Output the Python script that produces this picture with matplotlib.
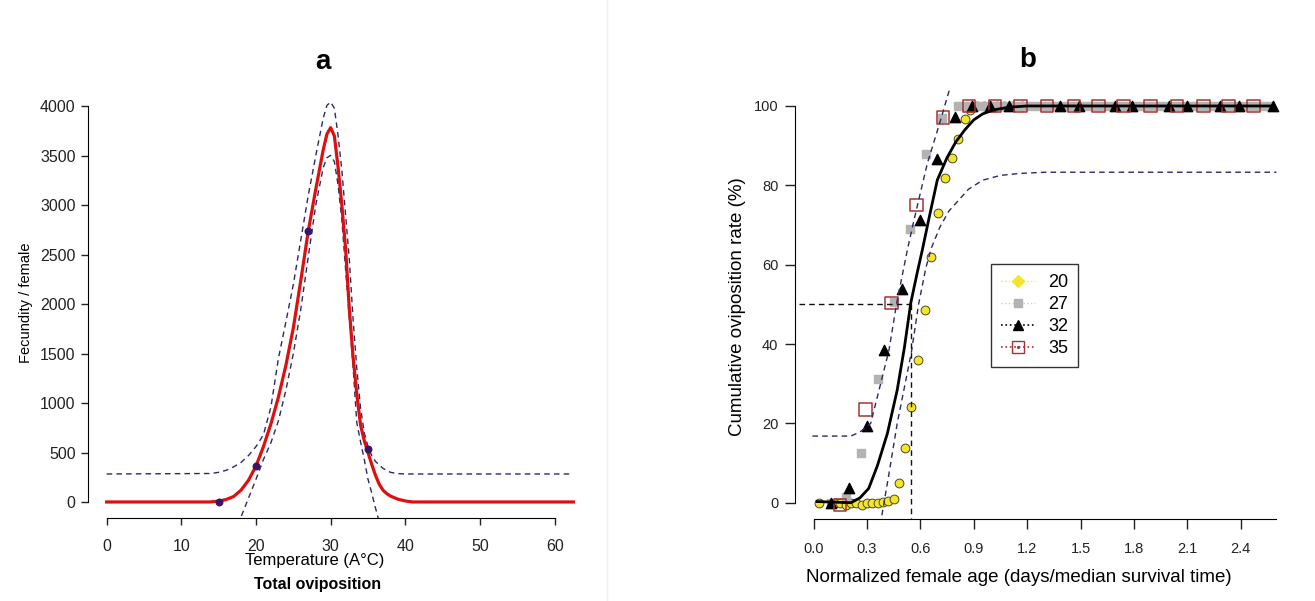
import matplotlib
matplotlib.use("Agg")
import matplotlib.pyplot as plt
from matplotlib.lines import Line2D

plt.rcParams['font.family'] = ['Liberation Sans', 'DejaVu Sans']

# ---- (a) total oviposition against temperature ----
obs_temp = [15, 20, 27, 35]
obs_fec = [0, 364, 2740, 535]

fit_temp = [0, 13.8, 15, 16, 17, 18, 19, 20, 21, 22, 23, 24, 25, 26, 27, 28, 29, 29.5,
            30, 30.5, 31, 31.5, 32, 32.5, 33, 33.5, 34, 34.5, 35, 35.5, 36, 36.5, 37,
            37.5, 38, 39, 40, 41, 62.5]
fit_fec = [0, 0, 8, 25, 55, 120, 220, 364, 560, 790, 1060, 1380, 1760, 2240, 2740, 3160,
           3560, 3720, 3785, 3700, 3380, 3000, 2560, 1950, 1470, 1090, 780, 620, 500, 380,
           270, 180, 120, 85, 60, 28, 10, 0, 0]

upper_temp = [0, 14, 15, 16, 17, 18, 19, 20, 21, 22, 23, 24, 25, 26, 27, 28, 29, 29.5,
              30, 30.5, 31, 31.5, 32, 32.5, 33, 33.5, 34, 34.5, 35, 35.5, 36, 37, 38, 39,
              40, 62]
upper_fec = [283, 288, 300, 320, 355, 400, 470, 560, 680, 960, 1450, 1820, 2200, 2650,
             3100, 3500, 3880, 4010, 4044, 3980, 3700, 3350, 2900, 2450, 1850, 1350, 950,
             700, 560, 470, 410, 340, 300, 287, 283, 283]

lower_temp = [17.5, 18, 19, 20, 21, 22, 23, 24, 25, 26, 27, 28, 29, 29.5, 30, 30.5, 31,
              31.5, 32, 32.5, 33, 33.5, 34, 34.5, 35, 35.5, 36, 36.5, 37]
lower_fec = [-230, -150, 40, 230, 430, 600, 820, 1130, 1500, 1950, 2480, 3000, 3380, 3480,
             3505, 3440, 3200, 2850, 2350, 1860, 1370, 800, 610, 430, 230, 90, -60, -200,
             -300]

# ---- (b) cumulative oviposition against normalised age ----
age_20 = [0.03, 0.12, 0.15, 0.18, 0.21, 0.24, 0.27, 0.30, 0.33, 0.36, 0.39, 0.42, 0.45,
          0.48, 0.514, 0.55, 0.587, 0.626, 0.658, 0.699, 0.736, 0.776, 0.811, 0.849,
          0.88, 0.92, 0.955, 0.99, 1.03, 1.07, 1.12, 1.17]
rate_20 = [0, 0, 0, -0.5, 0, 0, -0.5, 0, 0, 0, 0.3, 0.5, 1, 4.9, 13.7, 24.2, 36, 48.6,
           61.9, 72.9, 81.8, 86.8, 91.6, 96.6, 99, 100, 100, 100, 100, 100, 100, 100]

age_27 = [0.10, 0.181, 0.269, 0.362, 0.45, 0.542, 0.634, 0.72, 0.811, 0.855, 0.90, 0.945,
          0.99, 1.035, 1.08, 1.125, 1.17, 1.215, 1.26, 1.305, 1.35, 1.395, 1.44, 1.485,
          1.53, 1.575, 1.62, 1.665, 1.71, 1.755, 1.80, 1.845, 1.89, 1.935, 1.98, 2.025,
          2.07, 2.115, 2.16, 2.205, 2.25, 2.295, 2.34, 2.385, 2.43, 2.475, 2.52, 2.565]
rate_27 = [0, 1.5, 12.6, 31.1, 50.5, 69, 87.9, 97, 100, 100, 100, 100, 100, 100, 100,
           100, 100, 100, 100, 100, 100, 100, 100, 100, 100, 100, 100, 100, 100, 100,
           100, 100, 100, 100, 100, 100, 100, 100, 100, 100, 100, 100, 100, 100, 100,
           100, 100, 100]

age_32 = [0.097, 0.20, 0.303, 0.396, 0.499, 0.596, 0.695, 0.794, 0.892, 0.99, 1.097,
          1.387, 1.49, 1.695, 1.789, 1.994, 2.098, 2.284, 2.387, 2.583]
rate_32 = [0, 3.6, 19.3, 38.5, 53.8, 71.3, 86.6, 97.3, 100, 100, 100, 100, 100, 100, 100,
           100, 100, 100, 100, 100]

age_35 = [0.149, 0.293, 0.439, 0.579, 0.727, 0.873, 1.02, 1.163, 1.312, 1.462, 1.60,
          1.742, 1.892, 2.041, 2.191, 2.331, 2.471]
rate_35 = [-0.5, 23.5, 50.4, 75, 97.1, 100, 100, 100, 100, 100, 100, 100, 100, 100, 100,
           100, 100]

curve_age = [0.02, 0.21, 0.26, 0.31, 0.36, 0.415, 0.47, 0.51, 0.546, 0.58, 0.611, 0.65,
             0.695, 0.75, 0.80, 0.85, 0.90, 0.95, 1.01, 1.10, 1.20, 2.58]
curve_rate = [0.3, 0, 1.2, 3.6, 9.5, 17.5, 28.4, 39, 50.3, 57.5, 63.7, 72, 81.3, 87, 91,
              94, 96.5, 98, 99, 99.7, 100, 100]

band_hi_age = [-0.006, 0.209, 0.26, 0.321, 0.377, 0.424, 0.467, 0.527, 0.564, 0.639,
               0.714, 0.76, 0.78]
band_hi_rate = [16.8, 16.8, 17.8, 20, 30, 38.5, 50.3, 63.7, 71.2, 85.5, 96.5, 103.6, 107]

band_lo_age = [0.365, 0.40, 0.43, 0.47, 0.51, 0.55, 0.59, 0.63, 0.66, 0.71, 0.76, 0.81,
               0.87, 0.95, 1.05, 1.16, 1.30, 2.60]
band_lo_rate = [-8, 1, 9, 20, 29, 38, 50, 59, 64, 69.5, 73.5, 76, 79, 81.3, 82.5, 83,
                83.3, 83.3]

median_age = 0.55
median_rate = 50

W, H = 1315, 601
fig = plt.figure(figsize=(W / 100, H / 100), dpi=100)

navy = '#2a2a68'

# panel a
ax1 = fig.add_axes([88 / W, 1 - 518 / H, 504 / W, (518 - 86) / H])
ax1.plot(upper_temp, upper_fec, color=navy, lw=1.0, ls=(0, (4, 3)))
ax1.plot(lower_temp, lower_fec, color=navy, lw=1.0, ls=(0, (4, 3)))
ax1.plot(fit_temp, fit_fec, color='#dd0f0f', lw=2.3)
ax1.scatter(obs_temp, obs_fec, s=22, color='#3b1466', zorder=3)
ax1.set_xlim(-2.5, 65)
ax1.set_ylim(-162, 4206)
ax1.spines[['top', 'right']].set_visible(False)
ax1.spines['left'].set_bounds(0, 4000)
ax1.spines['bottom'].set_bounds(0, 60)
ax1.set_xticks(range(0, 61, 10))
ax1.set_yticks(range(0, 4001, 500))
ax1.tick_params(direction='out', length=5, width=1, labelsize=11.5, colors='#222222')
ax1.tick_params(axis='x', pad=10)
ax1.tick_params(axis='y', pad=4)

fig.text(323 / W, 1 - 62 / H, 'a', ha='center', va='center', fontsize=20,
         fontweight='bold')
fig.text(26 / W, 1 - 303 / H, 'Fecundity / female', rotation=90, ha='center',
         va='center', fontsize=10.5)
fig.text(315 / W, 1 - 561 / H, 'Temperature (A°C)', ha='center', va='center',
         fontsize=12)
fig.text(318 / W, 1 - 584 / H, 'Total oviposition', ha='center', va='center',
         fontsize=11.5, fontweight='bold')

# panel b
ax2 = fig.add_axes([795 / W, 1 - 518.6 / H, 500 / W, 428.5 / H])
ax2.scatter(age_20, rate_20, s=40, facecolor='#f5e52a', edgecolor='#4a4a2a',
            linewidth=0.7, zorder=2)
ax2.scatter(age_27, rate_27, s=30, marker='s', color='#b5b2b2', zorder=2)
ax2.scatter(age_32, rate_32, s=55, marker='^', color='black', zorder=3)
ax2.scatter(age_35, rate_35, s=80, marker='s', facecolor='none', edgecolor='#a83232',
            linewidth=1.1, zorder=3)

ax2.plot(band_hi_age, band_hi_rate, color=navy, lw=1.0, ls=(0, (4, 3)), zorder=4)
ax2.plot(band_lo_age, band_lo_rate, color=navy, lw=1.0, ls=(0, (4, 3)), zorder=4)
ax2.plot([-0.08, median_age], [median_rate, median_rate], color='#111111', lw=1.0,
         ls=(0, (4, 3)), zorder=4)
ax2.plot([median_age, median_age], [median_rate, -6], color='#111111', lw=1.0,
         ls=(0, (4, 3)), zorder=4)
ax2.plot(curve_age, curve_rate, color='black', lw=2.0, zorder=5)

ax2.set_xlim(-0.104, 2.704)
ax2.set_ylim(-4, 104)
ax2.spines[['top', 'right']].set_visible(False)
ax2.spines['left'].set_bounds(0, 100)
ax2.spines['bottom'].set_bounds(0, 2.6)
ax2.set_xticks([0.0, 0.3, 0.6, 0.9, 1.2, 1.5, 1.8, 2.1, 2.4])
ax2.set_xticklabels(['0.0', '0.3', '0.6', '0.9', '1.2', '1.5', '1.8', '2.1', '2.4'])
ax2.set_yticks(range(0, 101, 20))
ax2.tick_params(direction='out', length=7, width=1, labelsize=10.5, colors='#222222')
ax2.tick_params(axis='x', pad=10)
ax2.tick_params(axis='y', pad=5)

fig.text(1028 / W, 1 - 60 / H, 'b', ha='center', va='center', fontsize=20,
         fontweight='bold')
fig.text(737 / W, 1 - 307 / H, 'Cumulative oviposition rate (%)', rotation=90,
         ha='center', va='center', fontsize=13.5)
fig.text(1019 / W, 1 - 578 / H, 'Normalized female age (days/median survival time)',
         ha='center', va='center', fontsize=13.5)

h20 = Line2D([], [], color='#f2e560', ls=':', lw=1, marker='D', ms=6,
             markerfacecolor='#f5e52a', markeredgecolor='#f5e52a')
h27 = Line2D([], [], color='#cccccc', ls=':', lw=1, marker='s', ms=6,
             markerfacecolor='#b5b2b2', markeredgecolor='#b5b2b2')
h32 = Line2D([], [], color='black', ls=':', lw=1.2, marker='^', ms=7,
             markerfacecolor='black', markeredgecolor='black')
h35a = Line2D([], [], color='#a83232', ls=':', lw=1.2, marker='s', ms=8,
              markerfacecolor='none', markeredgecolor='#a83232')
h35b = Line2D([], [], ls='none', marker='.', ms=2.5, color='#a83232')
leg = ax2.legend([h20, h27, h32, (h35a, h35b)], ['20', '27', '32', '35'],
                 loc='upper left', bbox_to_anchor=(0.392, 0.594), fontsize=13,
                 frameon=True, fancybox=False, handlelength=1.9, handletextpad=0.7,
                 labelspacing=0.28, borderpad=0.55, borderaxespad=0)
leg.get_frame().set_edgecolor('black')
leg.get_frame().set_linewidth(1.0)

fig.add_artist(Line2D([607 / W, 607 / W], [0, 1], color='#f0f0f0', lw=1))

fig.savefig('out.png', dpi=100)
